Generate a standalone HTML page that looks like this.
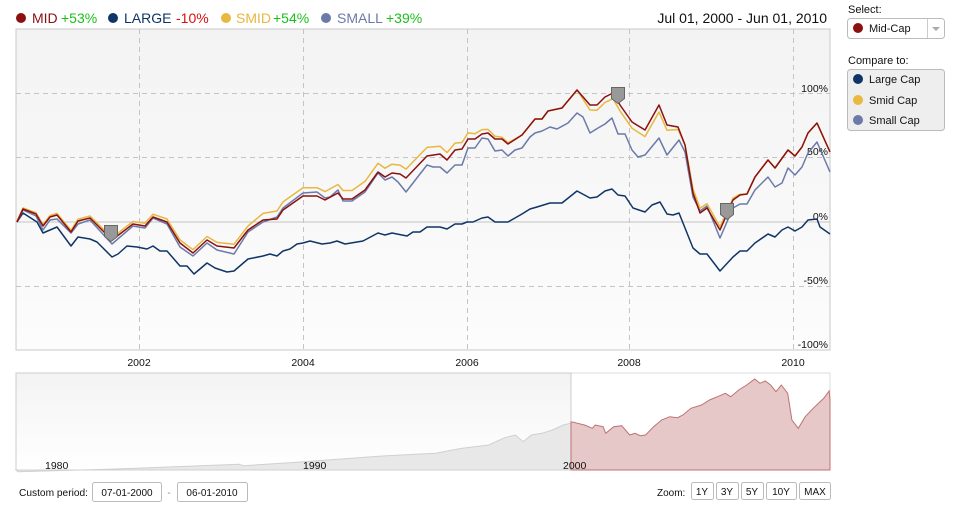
<!DOCTYPE html>
<html><head><meta charset="utf-8"><style>
body{margin:0;background:#fff;font-family:"Liberation Sans",Arial,sans-serif;}
svg text{font-family:"Liberation Sans",Arial,sans-serif;}
</style></head><body>
<svg id="s" width="963" height="509" xmlns="http://www.w3.org/2000/svg">
<defs>
<linearGradient id="bg" x1="0" y1="0" x2="0" y2="1"><stop offset="0" stop-color="#f3f3f3"/><stop offset="1" stop-color="#fcfcfc"/></linearGradient>
<linearGradient id="nb" x1="0" y1="0" x2="0" y2="1"><stop offset="0" stop-color="#f3f3f3"/><stop offset="1" stop-color="#ffffff"/></linearGradient>
</defs>
<rect x="16" y="29" width="814" height="321" fill="url(#bg)" stroke="#c8c8c8"/>
<g stroke="#c4c4c4" stroke-dasharray="5,4" stroke-width="1">
<line x1="16" y1="93.5" x2="830" y2="93.5"/><line x1="16" y1="157.5" x2="830" y2="157.5"/>
<line x1="16" y1="286.5" x2="830" y2="286.5"/>
<line x1="139.5" y1="29" x2="139.5" y2="350"/><line x1="303.5" y1="29" x2="303.5" y2="350"/>
<line x1="467.5" y1="29" x2="467.5" y2="350"/><line x1="629.5" y1="29" x2="629.5" y2="350"/><line x1="793.5" y1="29" x2="793.5" y2="350"/>
</g>
<line x1="16" y1="222" x2="830" y2="222" stroke="#c4c4c4"/>
<g font-size="10.5" fill="#111" text-anchor="end">
<text x="828" y="92">100%</text><text x="828" y="155">50%</text><text x="828" y="220">0%</text><text x="828" y="284">-50%</text><text x="828" y="348">-100%</text>
</g>
<g font-size="10.5" fill="#111" text-anchor="middle">
<text x="139" y="366">2002</text><text x="303" y="366">2004</text><text x="467" y="366">2006</text><text x="629" y="366">2008</text><text x="793" y="366">2010</text>
</g>
<g id="lines" fill="none" stroke-width="1.5" stroke-linejoin="round"></g>
<g fill="#999" stroke="#666" stroke-width="1">
<path d="M104.5,225.5h13v11l-6.5,5l-6.5,-5z"/>
<path d="M611.5,87.5h13v11l-6.5,5l-6.5,-5z"/>
<path d="M720.5,203.5h13v11l-6.5,5l-6.5,-5z"/>
</g>
<rect x="16" y="373" width="814" height="97" fill="#fff" stroke="#ddd"/>
<rect x="16" y="373" width="555" height="97" fill="url(#nb)" stroke="#ccc"/>
<path id="ga" fill="#e8e8e8" stroke="#d0d0d0"/>
<path id="ra" fill="#e6c8c8" stroke="#c07272"/>
<g font-size="10.5" fill="#111">
<text x="45" y="469">1980</text><text x="303" y="469">1990</text><text x="563" y="469">2000</text>
</g>
<g font-size="14">
<circle cx="21" cy="18" r="5" fill="#8b1010"/><text x="32" y="23" fill="#8b1010">MID</text><text x="61" y="23" fill="#1bbf1b">+53%</text>
<circle cx="113" cy="18" r="5" fill="#0f3566"/><text x="124" y="23" fill="#0f3566">LARGE</text><text x="176" y="23" fill="#d81010">-10%</text>
<circle cx="226" cy="18" r="5" fill="#e8b840"/><text x="236" y="23" fill="#e8b840">SMID</text><text x="273" y="23" fill="#1bbf1b">+54%</text>
<circle cx="326" cy="18" r="5" fill="#6b7aa8"/><text x="337" y="23" fill="#6b7aa8">SMALL</text><text x="386" y="23" fill="#1bbf1b">+39%</text>
<text x="827" y="23" text-anchor="end" fill="#111">Jul 01, 2000 - Jun 01, 2010</text>
</g>
<g font-size="11" fill="#111">
<text x="848" y="13">Select:</text>
<rect x="847.5" y="18.5" width="97" height="20" rx="3" fill="#fff" stroke="#bbb"/>
<line x1="927.5" y1="19" x2="927.5" y2="38" stroke="#ccc"/>
<path d="M932,27h8l-4,4z" fill="#aaa"/>
<circle cx="858" cy="28" r="5" fill="#8b1010"/><text x="869" y="32">Mid-Cap</text>
<text x="848" y="64">Compare to:</text>
<rect x="847.5" y="69.5" width="97" height="61" rx="3" fill="#eee" stroke="#bbb"/>
<circle cx="858" cy="79" r="5" fill="#0f3566"/><text x="869" y="83">Large Cap</text>
<circle cx="858" cy="100" r="5" fill="#e8b840"/><text x="869" y="104">Smid Cap</text>
<circle cx="858" cy="120" r="5" fill="#6b7aa8"/><text x="869" y="124">Small Cap</text>
</g>
<g font-size="10" fill="#111">
<text x="19" y="496" textLength="69" lengthAdjust="spacingAndGlyphs">Custom period:</text>
<rect x="92.5" y="482.5" width="69" height="19" rx="2" fill="#fff" stroke="#bbb"/><text x="127" y="496" text-anchor="middle">07-01-2000</text>
<text x="169" y="496" text-anchor="middle" fill="#888">-</text>
<rect x="177.5" y="482.5" width="70" height="19" rx="2" fill="#fff" stroke="#bbb"/><text x="212" y="496" text-anchor="middle">06-01-2010</text>
<text x="657" y="496">Zoom:</text>
<rect x="691.5" y="482.5" width="22" height="17" rx="2" fill="#fff" stroke="#bbb"/><text x="702" y="495" text-anchor="middle">1Y</text>
<rect x="716.5" y="482.5" width="22" height="17" rx="2" fill="#fff" stroke="#bbb"/><text x="727" y="495" text-anchor="middle">3Y</text>
<rect x="741.5" y="482.5" width="22" height="17" rx="2" fill="#fff" stroke="#bbb"/><text x="752" y="495" text-anchor="middle">5Y</text>
<rect x="766.5" y="482.5" width="30" height="17" rx="2" fill="#fff" stroke="#bbb"/><text x="781" y="495" text-anchor="middle">10Y</text>
<rect x="799.5" y="482.5" width="31" height="17" rx="2" fill="#fff" stroke="#bbb"/><text x="815" y="495" text-anchor="middle">MAX</text>
</g>
</svg>
<script>
var red=[[17,222],[23,209],[36,214],[43,226],[50,217],[57,215],[71,232],[78,221],[90,218],[112,240],[133,224],[145,226],[153,217],[167,222],[180,243],[193,253],[207,240],[217,246],[234,248],[248,230],[263,220],[277,219],[283,210],[303,196],[317,196],[325,200],[338,193],[343,199],[352,199],[365,190],[378,172],[385,177],[392,173],[400,174],[406,178],[427,156],[440,154],[447,160],[455,150],[462,149],[468,139],[475,139],[482,134],[488,133],[495,139],[502,139],[508,144],[522,135],[535,119],[542,119],[548,111],[562,108],[577,90],[590,105],[597,105],[605,97],[613,93],[620,105],[632,122],[645,130],[659,105],[667,125],[678,127],[685,145],[693,193],[700,213],[707,208],[720,230],[733,200],[740,195],[747,194],[755,177],[768,160],[775,168],[788,150],[795,156],[802,147],[808,133],[817,123],[830,152]];
var small=[[17,222],[23,210],[36,216],[43,230],[50,220],[57,219],[71,233],[78,224],[90,220],[112,244],[133,226],[145,228],[153,218],[167,224],[180,247],[193,256],[207,243],[217,250],[234,254],[248,232],[263,222],[277,217],[283,208],[303,193],[317,192],[325,198],[330,197],[338,190],[343,201],[352,201],[365,192],[378,173],[385,180],[392,177],[398,182],[406,192],[427,165],[433,167],[440,167],[447,173],[455,165],[462,165],[468,148],[475,148],[482,138],[488,139],[495,151],[502,150],[508,156],[515,150],[522,148],[530,137],[535,133],[542,131],[550,127],[557,129],[568,123],[577,113],[583,117],[590,133],[598,128],[605,124],[612,118],[618,134],[625,134],[632,150],[638,157],[645,155],[659,138],[667,155],[679,140],[685,152],[693,197],[700,211],[707,206],[720,238],[733,208],[740,204],[747,204],[755,190],[768,177],[775,187],[782,183],[788,168],[795,175],[802,167],[808,153],[817,142],[830,172]];
var large=[[17,222],[23,213],[37,222],[43,233],[57,227],[71,246],[78,237],[90,239],[97,242],[112,257],[118,254],[127,246],[137,247],[147,249],[153,246],[160,251],[167,251],[180,266],[187,266],[194,274],[207,263],[215,268],[227,272],[234,271],[248,259],[263,256],[270,254],[277,256],[283,251],[290,249],[297,244],[303,243],[310,241],[322,244],[330,243],[337,241],[345,244],[363,241],[378,233],[385,235],[392,233],[407,236],[413,232],[420,232],[427,227],[440,227],[447,229],[455,224],[462,224],[467,222],[473,222],[482,218],[488,217],[495,222],[508,222],[515,218],[522,214],[530,209],[537,207],[550,203],[562,203],[577,191],[590,198],[597,197],[605,191],[612,189],[618,195],[625,196],[633,208],[645,212],[652,205],[660,202],[667,214],[673,215],[679,213],[685,228],[693,248],[700,254],[707,254],[720,271],[733,257],[740,251],[747,251],[755,243],[768,234],[775,237],[782,230],[788,227],[795,231],[802,227],[808,220],[817,219],[820,227],[830,234]];
var off=[[16,-1],[90,-2],[250,-4],[270,-8],[420,-9],[470,-6],[500,-2],[520,0],[580,0],[590,5],[660,7],[680,2],[695,-5],[725,-3],[745,0],[830,0]];
function oa(x){for(var i=1;i<off.length;i++){if(x<=off[i][0]){var a=off[i-1],b=off[i];return a[1]+(b[1]-a[1])*(x-a[0])/(b[0]-a[0]);}}return 0;}
var smid=red.map(function(p){return [p[0],p[1]+oa(p[0])];});
function pts(a){return a.map(function(p){return p[0]+","+p[1].toFixed(1)}).join(" ");}
var g=document.getElementById("lines"),ns="http://www.w3.org/2000/svg";
[[large,"#0f3566"],[small,"#6b7aa8"],[smid,"#e8b840"],[red,"#8b1010"]].forEach(function(s){var e=document.createElementNS(ns,"polyline");e.setAttribute("points",pts(s[0]));e.setAttribute("stroke",s[1]);g.appendChild(e);});
function cv(a){return a.map(function(p){return [10+p[0]/1.88,365+p[1]/3];});}
var r=cv([[1062,170],[1080,180],[1095,190],[1100,180],[1115,185],[1120,205],[1135,185],[1150,182],[1165,210],[1175,205],[1185,212],[1195,210],[1210,185],[1225,165],[1240,155],[1255,158],[1265,150],[1280,130],[1300,120],[1315,105],[1330,95],[1345,85],[1355,95],[1370,75],[1385,60],[1400,42],[1410,55],[1420,48],[1430,60],[1440,80],[1450,60],[1462,85],[1470,165],[1482,190],[1495,155],[1510,130],[1520,115],[1530,100],[1540,78],[1548,105]]);
var gr=cv([[15,320],[200,312],[430,298],[440,302],[540,292],[700,273],[800,265],[850,250],[900,240],[930,218],[950,210],[965,230],[980,210],[1000,205],[1020,195],[1040,180],[1062,172]]);
function area(a,x0,x1){return "M"+x0+",470 L"+a.map(function(p){return p[0].toFixed(1)+","+p[1].toFixed(1)}).join(" L")+" L"+x1+",470Z";}
document.getElementById("ga").setAttribute("d",area(gr,16,571));
r[0][0]=571;r[r.length-1][0]=830;
document.getElementById("ra").setAttribute("d",area(r,571,830));
</script>
</body></html>
